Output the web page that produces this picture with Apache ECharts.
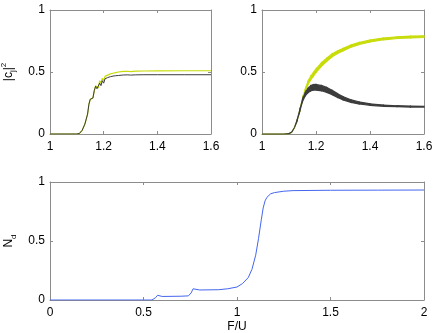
<!DOCTYPE html>
<html>
<head>
<meta charset="utf-8">
<script src="https://cdn.jsdelivr.net/npm/echarts@6/dist/echarts.min.js"></script>
<style>
  html, body { margin: 0; padding: 0; background: #fff; }
  #chart { width: 436px; height: 333px; }
</style>
</head>
<body>
<div id="chart"></div>
<script>
  // top-left panel: |c_j|^2 vs F/U
  var tlF = [1.0, 1.1, 1.11, 1.12, 1.13, 1.14, 1.145, 1.15, 1.155, 1.16, 1.165, 1.17, 1.175, 1.18, 1.185, 1.19, 1.195, 1.2, 1.205, 1.21, 1.215, 1.22, 1.225, 1.23, 1.235, 1.24, 1.245, 1.25, 1.255, 1.26, 1.265, 1.27, 1.275, 1.28, 1.29, 1.3, 1.32, 1.35, 1.4, 1.5, 1.6];
  var tlYellow = [0, 0, 0.005, 0.03, 0.08, 0.16, 0.24, 0.28, 0.285, 0.29, 0.35, 0.39, 0.375, 0.37, 0.43, 0.41, 0.45, 0.43, 0.465, 0.45, 0.475, 0.46, 0.485, 0.47, 0.49, 0.48, 0.495, 0.488, 0.5, 0.493, 0.503, 0.497, 0.505, 0.5, 0.506, 0.503, 0.507, 0.508, 0.509, 0.51, 0.51];
  var tlGray = [0, 0, 0.005, 0.03, 0.08, 0.16, 0.24, 0.28, 0.285, 0.29, 0.35, 0.385, 0.365, 0.36, 0.41, 0.39, 0.43, 0.41, 0.445, 0.43, 0.455, 0.44, 0.462, 0.45, 0.467, 0.458, 0.47, 0.463, 0.472, 0.467, 0.474, 0.47, 0.476, 0.472, 0.477, 0.475, 0.477, 0.478, 0.478, 0.478, 0.478];

  // top-right panel: bands (centre and thickness)
  var trF = [1.0, 1.08, 1.1, 1.11, 1.12, 1.13, 1.14, 1.15, 1.16, 1.17, 1.18, 1.19, 1.2, 1.22, 1.24, 1.26, 1.28, 1.3, 1.33, 1.36, 1.4, 1.45, 1.5, 1.55, 1.6];
  var trYellow = [0, 0, 0.003, 0.015, 0.05, 0.11, 0.19, 0.28, 0.35, 0.41, 0.45, 0.48, 0.51, 0.56, 0.6, 0.635, 0.66, 0.68, 0.71, 0.73, 0.75, 0.767, 0.777, 0.782, 0.785];
  var trYellowW = [0, 0, 0, 0, 0, 0, 0.005, 0.01, 0.02, 0.025, 0.028, 0.03, 0.03, 0.028, 0.026, 0.024, 0.022, 0.02, 0.018, 0.017, 0.016, 0.015, 0.014, 0.014, 0.014];
  var trGray = [0, 0, 0.003, 0.015, 0.05, 0.11, 0.19, 0.27, 0.32, 0.35, 0.368, 0.376, 0.377, 0.37, 0.355, 0.335, 0.31, 0.288, 0.265, 0.25, 0.237, 0.228, 0.224, 0.221, 0.22];
  var trGrayW = [0, 0, 0, 0, 0, 0.005, 0.01, 0.015, 0.025, 0.035, 0.042, 0.045, 0.045, 0.043, 0.04, 0.035, 0.03, 0.026, 0.02, 0.016, 0.012, 0.01, 0.008, 0.007, 0.006];

  // bottom panel: N_d vs F/U
  var bF = [0, 0.5, 0.545, 0.565, 0.575, 0.585, 0.6, 0.7, 0.74, 0.755, 0.765, 0.775, 0.8, 0.9, 0.95, 1.0, 1.03, 1.06, 1.08, 1.1, 1.115, 1.13, 1.14, 1.15, 1.16, 1.18, 1.2, 1.25, 1.3, 1.5, 1.75, 2.0];
  var bNd = [0, 0, 0, 0.02, 0.04, 0.03, 0.03, 0.032, 0.035, 0.06, 0.095, 0.085, 0.085, 0.087, 0.095, 0.11, 0.14, 0.19, 0.26, 0.38, 0.52, 0.68, 0.78, 0.84, 0.87, 0.9, 0.91, 0.922, 0.927, 0.93, 0.931, 0.932];

  function pairs(xs, ys) {
    return xs.map(function (x, i) { return [x, ys[i]]; });
  }
  // one quad per segment: [x0, lo0, hi0, x1, lo1, hi1]
  function segs(xs, c, w) {
    var out = [];
    for (var i = 0; i < xs.length - 1; i++) {
      out.push([xs[i], c[i] - w[i] / 2, c[i] + w[i] / 2, xs[i + 1], c[i + 1] - w[i + 1] / 2, c[i + 1] + w[i + 1] / 2]);
    }
    return out;
  }

  var frame = '#8c8c8c';
  var font = 'Liberation Sans';
  var grids = [
    { left: 50, top: 10, width: 161, height: 124, outerBoundsMode: 'none' },
    { left: 262, top: 10, width: 162, height: 124, outerBoundsMode: 'none' },
    { left: 50, top: 182, width: 374, height: 118, outerBoundsMode: 'none' }
  ];

  function xAx(g, min, max, interval, pos, name) {
    return {
      type: 'value', gridIndex: g, min: min, max: max, interval: interval, position: pos,
      name: name || '', nameLocation: 'middle', nameGap: 21,
      nameTextStyle: { color: '#000', fontSize: 12, fontFamily: font },
      axisLine: { show: true, onZero: false, lineStyle: { color: frame, width: 1 } },
      axisTick: { show: true, inside: true, length: 3, lineStyle: { color: frame } },
      axisLabel: { show: pos === 'bottom', color: '#000', fontSize: 12, fontFamily: font, margin: 7 },
      splitLine: { show: false }
    };
  }
  function yAx(g, pos, name, gap) {
    return {
      type: 'value', gridIndex: g, min: 0, max: 1, interval: 0.5, position: pos,
      name: name || '', nameLocation: 'middle', nameGap: gap || 31, nameRotate: 90,
      nameTextStyle: {
        color: '#000', fontSize: 12, fontFamily: font,
        rich: {
          n: { fontSize: 12, fontFamily: font, color: '#000' },
          sub: { fontSize: 8, fontFamily: font, color: '#000', verticalAlign: 'bottom', lineHeight: 17 },
          sup: { fontSize: 8, fontFamily: font, color: '#000', verticalAlign: 'top', lineHeight: 17 }
        }
      },
      axisLine: { show: true, onZero: false, lineStyle: { color: frame, width: 1 } },
      axisTick: { show: true, inside: true, length: 3, lineStyle: { color: frame } },
      axisLabel: { show: pos === 'left', color: '#000', fontSize: 12, fontFamily: font, margin: 5 },
      splitLine: { show: false }
    };
  }

  function band(xi, yi, xs, c, w, color) {
    return {
      type: 'custom', xAxisIndex: xi, yAxisIndex: yi,
      data: segs(xs, c, w),
      encode: { x: [0, 3], y: [1, 2, 4, 5] },
      renderItem: function (params, api) {
        var p = [
          api.coord([api.value(0), api.value(1)]),
          api.coord([api.value(3), api.value(4)]),
          api.coord([api.value(3), api.value(5)]),
          api.coord([api.value(0), api.value(2)])
        ];
        return {
          type: 'polygon',
          shape: { points: p },
          style: { fill: color, stroke: color, lineWidth: 1.2 }
        };
      },
      animation: false
    };
  }

  var chart = echarts.init(document.getElementById('chart'));
  var series = [
    { type: 'line', xAxisIndex: 0, yAxisIndex: 0, symbol: 'none', lineStyle: { width: 1.2, color: '#c8dc0a' }, data: pairs(tlF, tlYellow), animation: false },
    { type: 'line', xAxisIndex: 0, yAxisIndex: 0, symbol: 'none', lineStyle: { width: 1, color: '#3c3c3c' }, data: pairs(tlF, tlGray), animation: false },
    band(2, 2, trF, trYellow, trYellowW, '#c8dc0a'),
    band(2, 2, trF, trGray, trGrayW, '#3c3c3c'),
    { type: 'line', xAxisIndex: 4, yAxisIndex: 4, symbol: 'none', lineStyle: { width: 1, color: '#4466ee' }, data: pairs(bF, bNd), animation: false }
  ];

  chart.setOption({
    backgroundColor: '#fff',
    animation: false,
    grid: grids,
    xAxis: [
      xAx(0, 1, 1.6, 0.2, 'bottom'), xAx(0, 1, 1.6, 0.2, 'top'),
      xAx(1, 1, 1.6, 0.2, 'bottom'), xAx(1, 1, 1.6, 0.2, 'top'),
      xAx(2, 0, 2, 0.5, 'bottom', 'F/U'), xAx(2, 0, 2, 0.5, 'top')
    ],
    yAxis: [
      yAx(0, 'left', '{n||c}{sub|j}{n||}{sup|2}', 33), yAx(0, 'right'),
      yAx(1, 'left'), yAx(1, 'right'),
      yAx(2, 'left', '{n|N}{sub|d}', 30), yAx(2, 'right')
    ],
    series: series
  });
</script>
</body>
</html>
